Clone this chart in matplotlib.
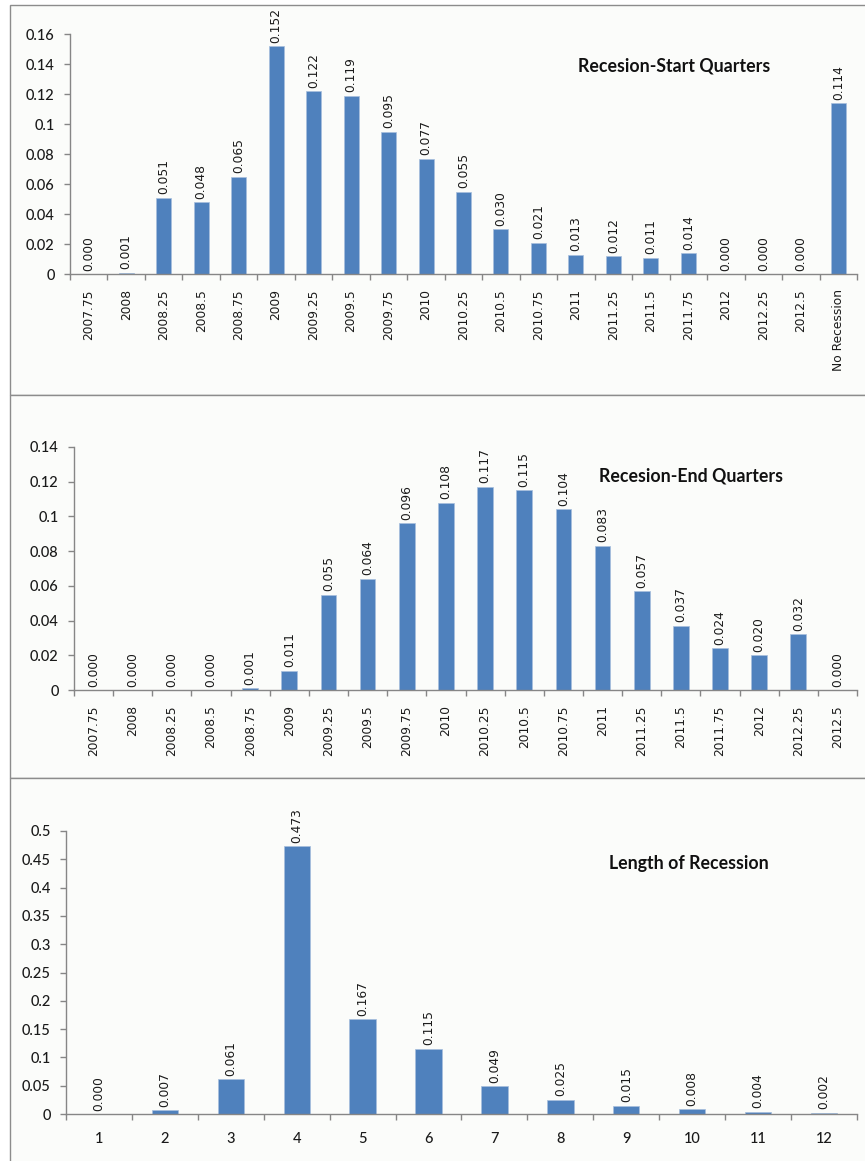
import numpy as np
import matplotlib
matplotlib.use("Agg")
import matplotlib.pyplot as plt
from matplotlib.patches import Rectangle
from matplotlib.ticker import FuncFormatter

quarters = ["2007.75", "2008", "2008.25", "2008.5", "2008.75", "2009", "2009.25",
            "2009.5", "2009.75", "2010", "2010.25", "2010.5", "2010.75", "2011",
            "2011.25", "2011.5", "2011.75", "2012", "2012.25", "2012.5"]

start_labels = quarters + ["No Recession"]
start_vals = [0.000, 0.001, 0.051, 0.048, 0.065, 0.152, 0.122, 0.119, 0.095, 0.077,
              0.055, 0.030, 0.021, 0.013, 0.012, 0.011, 0.014, 0.000, 0.000, 0.000,
              0.114]

end_labels = quarters
end_vals = [0.000, 0.000, 0.000, 0.000, 0.001, 0.011, 0.055, 0.064, 0.096, 0.108,
            0.117, 0.115, 0.104, 0.083, 0.057, 0.037, 0.024, 0.020, 0.032, 0.000]

length_labels = [str(i) for i in range(1, 13)]
length_vals = [0.000, 0.007, 0.061, 0.473, 0.167, 0.115, 0.049, 0.025, 0.015, 0.008,
               0.004, 0.002]

W, H = 865, 1161
BAR = "#4f81bd"
AXIS = "#868686"
PANEL_BG = "#fbfcfa"
TXT = "#1a1a1a"
SMALL = 8.8

fig = plt.figure(figsize=(W / 100, H / 100), dpi=100)
fig.patch.set_facecolor("white")


def px_rect(x0, y0, x1, y1):
    # pixel box (top-left origin) -> figure fraction [left, bottom, width, height]
    return [x0 / W, 1 - y1 / H, (x1 - x0) / W, (y1 - y0) / H]


def panel(y0, y1):
    l, b, w, h = px_rect(10, y0, 868, y1)
    fig.patches.append(Rectangle((l, b), w, h, transform=fig.transFigure,
                                 facecolor=PANEL_BG, edgecolor="#8c8c8c",
                                 linewidth=1.0, zorder=-5))


def bar_chart(box, labels, vals, ymax, ystep, title, title_xy, rotate=True):
    ax = fig.add_axes(px_rect(*box))
    ax.patch.set_alpha(0)
    x = np.arange(len(labels))
    ax.bar(x, vals, width=0.4, color=BAR, edgecolor="#a7bfdd", linewidth=0.5, zorder=2)
    ax.set_xlim(-0.5, len(labels) - 0.5)
    ax.set_ylim(0, ymax)
    ax.set_yticks(np.arange(0, ymax + ystep / 2, ystep))
    ax.yaxis.set_major_formatter(FuncFormatter(lambda v, p: f"{round(v, 4):g}"))
    for s in ["top", "right"]:
        ax.spines[s].set_visible(False)
    for s in ["left", "bottom"]:
        ax.spines[s].set_color(AXIS)
        ax.spines[s].set_linewidth(1.0)
    ax.tick_params(axis="y", length=4, width=1, color=AXIS, pad=7,
                   labelsize=10.5, labelcolor=TXT)
    for t in ax.get_yticklabels():
        t.set_family("Lato")
        t.set_fontweight("medium")
    ax.set_xticks(x)
    ax.set_xticks(np.arange(-0.5, len(labels)), minor=True)
    ax.tick_params(axis="x", which="minor", length=4, width=1, color=AXIS)
    if rotate:
        ax.set_xticklabels(labels, rotation=90, va="top", family="DejaVu Sans",
                           fontsize=SMALL, color=TXT)
        ax.tick_params(axis="x", which="major", length=0, pad=11)
    else:
        ax.set_xticklabels(labels, family="Lato", fontsize=10.5, fontweight="medium",
                           color=TXT)
        ax.tick_params(axis="x", which="major", length=0, pad=13)
    for xi, v in zip(x, vals):
        ax.annotate(f"{v:.3f}", (xi, v), xytext=(0, 2.5), textcoords="offset points",
                    rotation=90, ha="center", va="bottom", fontsize=SMALL,
                    family="DejaVu Sans", color=TXT, annotation_clip=False)
    fig.text(title_xy[0] / W, 1 - title_xy[1] / H, title, ha="center", va="center",
             fontsize=12.8, fontweight="bold", family="Lato", color="#111111")
    return ax


panel(5, 395)
panel(395, 778)
panel(778, 1163)

bar_chart((70, 34, 857, 274), start_labels, start_vals, 0.16, 0.02,
          "Recesion-Start Quarters", (674, 66))
bar_chart((74, 447, 857, 690), end_labels, end_vals, 0.14, 0.02,
          "Recesion-End Quarters", (691, 476))
bar_chart((66, 831, 857, 1114), length_labels, length_vals, 0.5, 0.05,
          "Length of Recession", (689, 864), rotate=False)

fig.savefig("out.png", dpi=100)
